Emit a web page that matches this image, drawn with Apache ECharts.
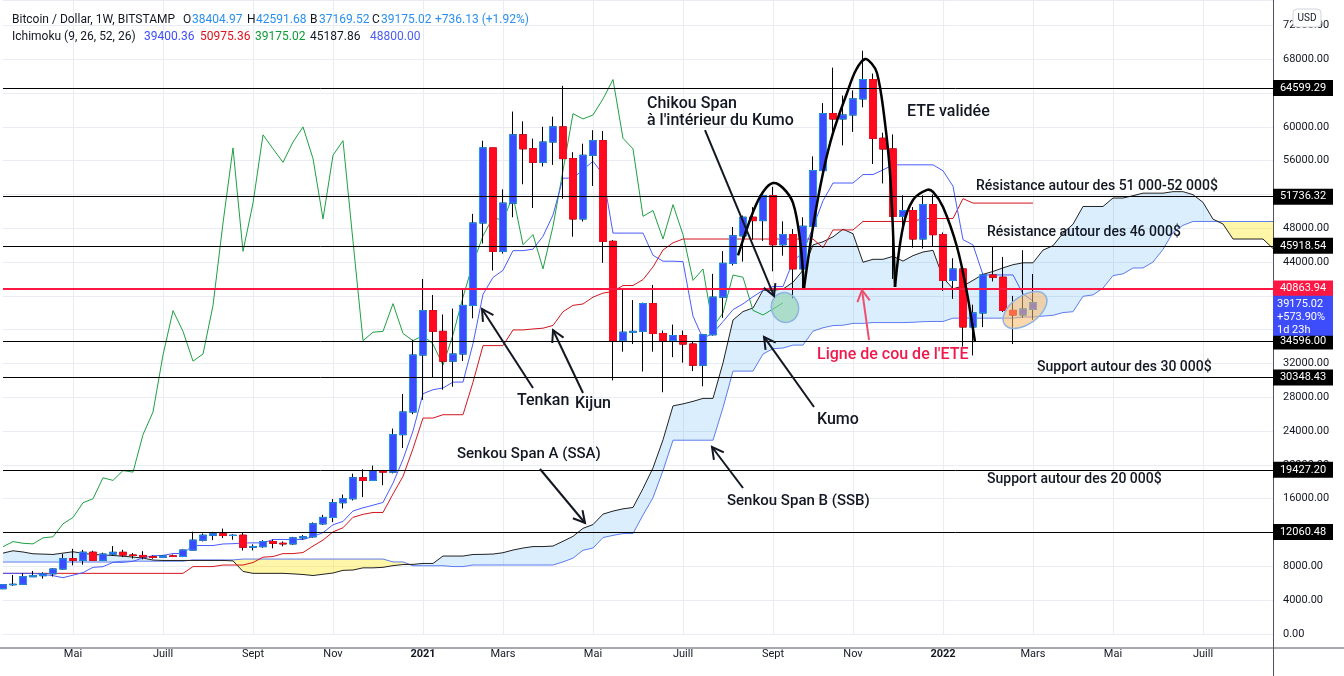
<!DOCTYPE html>
<html><head><meta charset="utf-8">
<script src="https://cdn.jsdelivr.net/npm/echarts/dist/echarts.min.js"></script>
<style>html,body{margin:0;padding:0;background:#fff}#c{width:1344px;height:676px}</style>
</head><body><div id="c"></div><script>
// ---- weekly candles (index 0 = week of 16 Mar 2020) ----
const opens=[5360,5830,5880,6775,6900,7120,7690,8900,8720,9670,8720,9450,9660,9340,9290,9130,9070,9240,9170,9930,11100,11680,11850,11650,11680,10270,10330,10930,10730,10660,11370,11500,13030,13790,15530,16000,18480,18170,19330,19150,23580,26260,33000,38250,35800,32280,33120,38870,48620,57500,45270,50970,59050,57400,55800,58200,59990,56240,49100,56630,58360,46450,34700,35700,35800,39080,35550,34700,35300,34300,31800,35400,39850,43850,47100,49300,48900,51850,46050,47250,43200,48230,54820,61560,60930,61400,63300,65590,58640,57380,49410,50100,46730,50790,47240,41830,43180,36320,37980,42470,42200,38280,37740,38405];
const closes=[5830,5880,6775,6900,7120,7690,8900,8720,9670,8720,9450,9660,9340,9290,9130,9070,9240,9170,9930,11100,11680,11850,11650,11680,10270,10330,10930,10730,10660,11370,11500,13030,13790,15530,16000,18480,18170,19330,19150,23580,26260,33000,38250,35800,32280,33120,38870,48620,57500,45270,50970,59050,57400,55800,58200,59990,56240,49100,56630,58360,46450,34700,35700,35800,39080,35550,34700,35300,34300,31800,35400,39850,43850,47100,49300,48900,51850,46050,47250,43200,48230,54820,61560,60930,61400,63300,65590,58640,57380,49410,50100,46730,50790,47240,41830,43180,36320,37980,42470,42200,38280,37740,38440,39175.02];
const highs=[5860,6980,7200,7460,7300,7770,9470,10070,9950,9850,9620,10400,9960,9580,9800,9300,9350,9400,10000,12100,11900,12090,12470,11800,12050,10600,11100,11170,10950,11490,11700,13200,14100,15960,16500,18970,19480,19920,19400,24300,28400,34800,42000,40100,37800,38500,40900,49700,58350,57500,52600,61800,60650,58600,60000,61200,64850,57000,58000,59600,59500,46600,40800,39500,39200,41300,35900,36600,35900,34600,35500,42600,45300,48150,49500,50500,52000,52900,48820,47900,49300,56500,62800,67000,63700,64300,69000,66300,59300,59100,51900,50500,51900,52000,47500,44450,43500,38960,42600,45850,44600,40000,45400,42591.68];
const lows=[5300,5700,5860,6750,6550,6800,7600,8120,8200,8700,8640,9270,9100,8920,8830,8900,9050,9100,9090,9900,10950,11100,11350,11150,9880,9880,10200,10140,10370,10550,11200,11400,12900,13230,14850,15800,16200,18100,17600,19000,22000,26000,27700,30400,28900,29250,32300,37350,46200,43000,45000,49300,53200,50400,55300,55500,51500,47000,48800,53000,43900,30000,33400,34300,31050,33400,28600,32750,32100,31100,29300,35300,37400,43600,44050,46650,46500,42900,44750,39700,40800,47000,53900,59500,57800,59400,62300,55600,53300,42000,47300,45700,45600,45900,40600,39650,34000,32950,36300,41700,38100,34300,37400,37169.52];
// ---- Ichimoku (9, 26, 52, 26) ----
const tenkan=[7175,7175,7175,7175,7050,6900,6660,6960,7255,7885,7965,8475,8475,8600,9000,9260,9300,9520,9520,10465,10465,10465,10650,10685,10760,10780,10780,11175,11175,11175,11175,11540,11990,12920,13320,14555,14925,15235,15560,17850,20650,24015,28425,28900,29100,29800,29800,34350,40175,42175,43025,45350,45350,45525,47050,49575,53925,53925,54925,55925,54375,47425,47425,47425,47425,44800,44100,44100,44050,37600,34950,35600,36950,38375,39050,39900,40650,41100,41100,44100,45150,48100,51250,53350,53350,53350,54350,54350,54900,55500,55500,55500,55500,55500,54800,52975,46650,46025,42475,42475,42475,42475,40225,39400.36];
const kijun=[7175,7175,7175,7175,7175,7175,7175,7175,7175,7175,7175,7175,7175,7175,7175,7175,7175,7175,7175,7975,7975,7975,8160,8160,8160,8455,9085,9165,9510,9510,9635,10400,11110,12080,12570,13805,14155,14375,14375,16565,18650,21925,25545,25545,25940,25940,25940,29790,34115,34115,34115,35970,35970,36085,36175,36500,38125,38875,39040,39850,40325,40525,41225,41225,41925,43425,45425,46275,46725,46725,46725,46725,46725,46725,46725,46725,46725,46725,46725,46725,46725,46725,45700,47800,47800,47800,48800,48800,48800,48800,48800,48800,49150,49150,49150,49150,51500,50975,50975,50975,50975,50975,50975,50975.36];
const chikou=[10330,10930,10730,10660,11370,11500,13030,13790,15530,16000,18480,18170,19330,19150,23580,26260,33000,38250,35800,32280,33120,38870,48620,57500,45270,50970,59050,57400,55800,58200,59990,56240,49100,56630,58360,46450,34700,35700,35800,39080,35550,34700,35300,34300,31800,35400,39850,43850,47100,49300,48900,51850,46050,47250,43200,48230,54820,61560,60930,61400,63300,65590,58640,57380,49410,50100,46730,50790,47240,41830,43180,36320,37980,42470,42200,38280,37740,38440,39175.02];
const ssa=[9570,9846,9700,9490,9450,9410,9570,9727,9550,9400,9350,9290,9200,9100,8980,8750,8700,8700,8700,8700,8700,8700,8700,8650,7400,7175,7175,7175,7175,7112,7037,6917,7067,7215,7530,7570,7825,7825,7887,8087,8217,8237,8347,8347,9220,9220,9220,9405,9422,9460,9617,9932,10170,10342,10342,10405,10970,11550,12500,12945,14180,14540,14805,14967,17207,19650,22970,26985,27222,27520,27870,27870,32070,37145,38145,38570,40660,40660,40805,41612,43037,46025,46400,46982,47887,47350,43975,44325,44325,44675,44112,44762,45187,45387,42162,40837,41162,41837,42550,42887,43312,43687,43912,43912,45412,45937,47412,48475,50575,50575,50575,51575,51575,51850,52150,52150,52150,52325,52325,51975,51062,49075,48500,46725,46725,46725,46725,45600];
const ssb=[8515,8515,8515,8515,8515,8515,8515,8515,8515,8515,8515,8515,8615,8615,8615,8615,8615,8615,8615,8765,8765,8765,8765,8765,8865,8865,8865,8865,8865,8865,8865,8865,8865,8865,8865,8865,8865,8865,8865,8525,8525,8075,8075,8075,8075,7975,7975,8160,8160,8160,8160,8160,8160,8160,8160,8160,8525,8975,9905,10175,11410,11665,11885,11885,14075,16125,19325,22925,22925,22925,22925,22925,26775,31100,31100,31100,33120,33750,33830,34175,34175,35825,36225,36485,36525,36745,36745,36840,36840,36840,36840,36875,36950,36970,36970,37365,37365,37365,37365,37365,37365,37365,37495,37495,37610,37700,38025,38125,39950,40115,40925,42400,42600,43300,43300,44000,45500,47500,48350,48800,48800,48800,48800,48800,48800,48800,48800,48800];
// ---- horizontal levels, ticks, labels ----
const levels=[64599.29,51736.32,45918.54,34596.00,30348.43,19427.20,12060.48];
const neckline=40863.94;
const tickIdx=[7,16,25,33,42,50,59,68,77,85,94,103,111,120];
const tickLabels=['Mai','Juill','Sept','Nov','2021','Mars','Mai','Juill','Sept','Nov','2022','Mars','Mai','Juill'];
const yearLabels=['2021','2022'];
const lastInfo=['39175.02','+573.90%','1d 23h'];
const legend1=[['Bitcoin / Dollar, 1W, BITSTAMP','#131722',12],['O','#131722',183],['38404.97','#2a8ff0',192],['H','#131722',247],['42591.68','#2a8ff0',256],['B','#131722',310],['37169.52','#2a8ff0',319],['C','#131722',372],['39175.02','#2a8ff0',381],['+736.13 (+1.92%)','#2a8ff0',435]];
const legend2=[['Ichimoku (9, 26, 52, 26)','#131722',12],['39400.36','#3d4dff',144],['50975.36','#e0101b',200],['39175.02','#0d9b35',255],['45187.86','#131722',310],['48800.00','#4a5cf5',370]];
// annotations in data space: [category index, price]
const notes=[
 ["Chikou Span",64.4,62700,16,'#131722'],
 ["à l'intérieur du Kumo",64.4,60690,16,'#131722'],
 ["ETE validée",90.4,61750,16,'#131722'],
 ["Résistance autour des 51 000-52 000$",97.3,52880,14,'#131722'],
 ["Résistance autour des 46 000$",98.4,47440,14,'#131722'],
 ["Ligne de cou de l'ETE",81.4,33010,16,'#f2184b'],
 ["Support autour des 30 000$",103.4,31470,14,'#131722'],
 ["Kumo",81.4,25320,16,'#131722'],
 ["Tenkan",51.4,27560,16,'#131722'],
 ["Kijun",57.2,27210,16,'#131722'],
 ["Senkou Span A (SSA)",45.4,21290,15,'#131722'],
 ["Senkou Span B (SSB)",72.4,15730,15,'#131722'],
 ["Support autour des 20 000$",98.4,18220,14,'#131722']];
const arrows=[
 [[70.2,59620],[77.1,39990],'#131722'],
 [[53.0,29100],[47.9,38450],'#131722'],
 [[58.0,28510],[55.0,35960],'#131722'],
 [[81.1,26850],[76.1,35140],'#131722'],
 [[53.7,19520],[58.2,13130],'#131722'],
 [[74.0,17270],[70.9,22120],'#131722'],
 [[86.6,34780],[85.9,40700],'#f0506e']];
const shoulderL=[[73.5,44800],[75.0,49920],[76.0,52290],[77.0,53350],[78.0,52760],[79.0,50990],[79.7,46610],[80.1,40930]];
const head=[[80.1,40930],[81.0,48150],[82.0,54540],[83.0,59270],[84.4,64000],[85.3,66720],[86.2,68020],[86.9,67430],[87.4,66370],[88.0,62340],[88.7,54540],[89.2,41050]];
const shoulderR=[[89.2,41050],[90.0,48150],[91.0,51340],[92.4,52530],[93.0,52290],[94.0,50510],[95.4,45780],[96.4,40340],[97.2,34540]];
const ellipses=[[78.2,38620,13.5,15,0.3,'rgba(140,210,170,0.6)'],[102.2,38330,25,14,0.62,'rgba(250,185,105,0.55)']];

const N=128;
const cats=[];for(let i=0;i<N;i++)cats.push(String(i));
const FONT='Roboto';
const chart=echarts.init(document.getElementById('c'),null,{renderer:'canvas',width:1344,height:676});
const ohlc=opens.map((o,i)=>[o,closes[i],lows[i],highs[i]]);
const bodies=opens.map((o,i)=>[o,closes[i],Math.min(o,closes[i]),Math.max(o,closes[i])]);
const cloudBase=ssa.map((a,i)=>Math.min(a,ssb[i]));
const cloudUp=ssa.map((a,i)=>a>=ssb[i]?a-ssb[i]:0);
const cloudDown=ssa.map((a,i)=>a<ssb[i]?ssb[i]-a:0);
const isTick=i=>tickIdx.indexOf(i)>=0;
const lineS=(name,data,color,z)=>({name,type:'line',data,symbol:'none',silent:true,z,lineStyle:{color,width:1},itemStyle:{color}});
const option={
 animation:false,backgroundColor:'#ffffff',
 grid:{left:3,right:71,top:0,bottom:42,containLabel:false,outerBoundsMode:'none'},
 xAxis:{type:'category',data:cats,boundaryGap:false,offset:12,axisLine:{show:false},axisTick:{show:false},
  axisLabel:{interval:(i)=>isTick(i),color:'#131722',fontSize:11,fontFamily:FONT,margin:3,
   formatter:(v,i)=>{const t=tickLabels[tickIdx.indexOf(i)]||'';return yearLabels.indexOf(t)>=0?'{y|'+t+'}':t;},
   rich:{y:{fontWeight:'bold',fontSize:11,fontFamily:FONT,color:'#131722'}}},
  splitLine:{show:true,interval:(i)=>isTick(i),lineStyle:{color:'#e9edf3',width:1}}},
 yAxis:{type:'value',position:'right',min:0,max:75000,interval:4000,axisLine:{show:false},axisTick:{show:false},
  axisLabel:{formatter:v=>v.toFixed(2),color:'#131722',fontSize:11,fontFamily:FONT,margin:10,showMaxLabel:false},
  splitLine:{show:true,lineStyle:{color:'#e9edf3',width:1}}},
 series:[
  {name:'cb',type:'line',stack:'cloud',data:cloudBase,symbol:'none',silent:true,z:1,lineStyle:{opacity:0}},
  {name:'cu',type:'line',stack:'cloud',data:cloudUp,symbol:'none',silent:true,z:1,lineStyle:{opacity:0},areaStyle:{color:'rgba(33,150,243,0.16)',opacity:1}},
  {name:'cd',type:'line',stack:'cloud',data:cloudDown,symbol:'none',silent:true,z:1,lineStyle:{opacity:0},areaStyle:{color:'rgba(255,235,59,0.45)',opacity:1}},
  lineS('SSB',ssb,'#5e7cf0',2),
  lineS('SSA',ssa,'#222222',2),
  lineS('Chikou',chikou,'#1fa043',2),
  lineS('Kijun',kijun,'#d4161f',2),
  lineS('Tenkan',tenkan,'#4a5cff',2),
  {name:'wick',type:'candlestick',data:ohlc,barWidth:7,silent:true,z:3,
   itemStyle:{color:'#000',color0:'#000',borderColor:'#000',borderColor0:'#000',borderWidth:1}},
  {name:'body',type:'candlestick',data:bodies,barWidth:7,silent:true,z:4,
   itemStyle:{color:'#3b4bff',color0:'#ff0a1e',borderColor:'#2196f3',borderColor0:'#ff0a1e',borderWidth:1}},
  {name:'levels',type:'line',data:[null],symbol:'none',silent:true,z:6,
   markLine:{silent:true,symbol:['none','none'],label:{show:false},animation:false,
    data:levels.map(v=>({yAxis:v,lineStyle:{color:'#000',width:1,type:'solid'}})).concat([{yAxis:neckline,lineStyle:{color:'#ff1744',width:2,type:'solid'}}])}}
 ]};
chart.setOption(option);

const P=(k,v)=>{const a=chart.convertToPixel({xAxisIndex:0,yAxisIndex:0},[0,v]);const b=chart.convertToPixel({xAxisIndex:0,yAxisIndex:0},[1,v]);return [a[0]+(b[0]-a[0])*k,a[1]];};
const g=[];
const right=P(N-1,0)[0];
// frame
g.push({type:'line',z:60,shape:{x1:0,y1:648,x2:1344,y2:648},style:{stroke:'#50535e',lineWidth:1}});
g.push({type:'line',z:60,shape:{x1:Math.round(right)+0.5,y1:0,x2:Math.round(right)+0.5,y2:676},style:{stroke:'#50535e',lineWidth:1}});
// H&S curves
[shoulderL,head,shoulderR].forEach(c=>{g.push({type:'polyline',z:40,shape:{points:c.map(p=>P(p[0],p[1])),smooth:0.35},style:{stroke:'#000',lineWidth:2.5,fill:null}});});
// ellipses
ellipses.forEach(e=>{const c=P(e[0],e[1]);g.push({type:'ellipse',z:39,x:c[0],y:c[1],rotation:e[4],shape:{cx:0,cy:0,rx:e[2],ry:e[3]},style:{fill:e[5],stroke:'#8fb3e3',lineWidth:1.5}});});
// arrows
arrows.forEach(a=>{const t=P(a[0][0],a[0][1]),h=P(a[1][0],a[1][1]);const ang=Math.atan2(h[1]-t[1],h[0]-t[0]);const L=13,s=0.5;
 const w1=[h[0]-L*Math.cos(ang-s),h[1]-L*Math.sin(ang-s)],w2=[h[0]-L*Math.cos(ang+s),h[1]-L*Math.sin(ang+s)];
 g.push({type:'line',z:41,shape:{x1:t[0],y1:t[1],x2:h[0],y2:h[1]},style:{stroke:a[2],lineWidth:2}});
 g.push({type:'polyline',z:41,shape:{points:[w1,h,w2]},style:{stroke:a[2],lineWidth:2,fill:null}});});
// texts
notes.forEach(n=>{const p=P(n[1],n[2]);g.push({type:'text',z:45,x:p[0],y:p[1],style:{text:n[0],fill:n[4],fontSize:n[3],fontFamily:FONT,fontWeight:500,align:'left',verticalAlign:'middle'}});});
// price tags
const tag=(v,bg)=>{const y=P(0,v)[1];g.push({type:'rect',z:70,shape:{x:right,y:y-8,width:60,height:16},style:{fill:bg}});
 g.push({type:'text',z:71,x:right+30,y:y,style:{text:v.toFixed(2),fill:'#fff',fontSize:11,fontFamily:FONT,align:'center',verticalAlign:'middle'}});};
levels.forEach(v=>tag(v,'#000'));
tag(neckline,'#ff1744');
{const y=P(0,closes[closes.length-1])[1];g.push({type:'rect',z:72,shape:{x:right,y:y-7,width:60,height:40},style:{fill:'#3d4dfc'}});
 lastInfo.forEach((t,i)=>g.push({type:'text',z:73,x:right+4,y:y+1+i*13,style:{text:t,fill:'#fff',fontSize:11,fontFamily:FONT,align:'left',verticalAlign:'middle'}}));}
// USD box
g.push({type:'rect',z:74,shape:{x:1293,y:9,width:28,height:18,r:4},style:{fill:'#fff',stroke:'#d1d4dc',lineWidth:1}});
g.push({type:'text',z:75,x:1307,y:18,style:{text:'USD',fill:'#131722',fontSize:10,fontFamily:FONT,align:'center',verticalAlign:'middle'}});
// legend
legend1.forEach(l=>g.push({type:'text',z:80,x:l[2],y:20,style:{text:l[0],fill:l[1],fontSize:12,fontFamily:FONT,align:'left',verticalAlign:'middle'}}));
legend2.forEach(l=>g.push({type:'text',z:80,x:l[2],y:37,style:{text:l[0],fill:l[1],fontSize:12,fontFamily:FONT,align:'left',verticalAlign:'middle'}}));
chart.setOption({graphic:{elements:g}});
</script></body></html>
